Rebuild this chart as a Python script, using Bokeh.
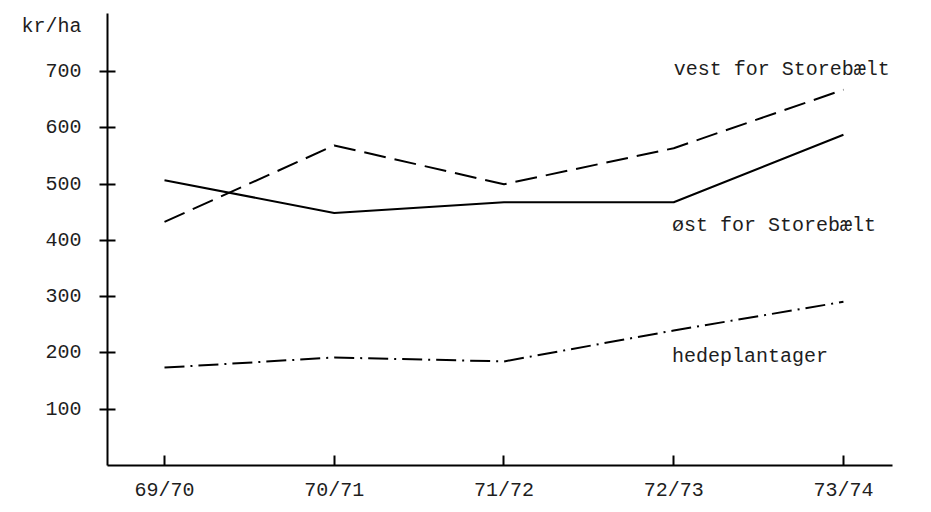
from bokeh.plotting import figure
from bokeh.models import Range1d, FixedTicker, Label
from bokeh.embed import file_html
from bokeh.resources import INLINE

# ---- data ----
seasons = ["69/70", "70/71", "71/72", "72/73", "73/74"]
vest = [433, 569, 500, 564, 668]      # vest for Storebælt
oest = [507, 449, 468, 468, 588]      # øst for Storebælt
hede = [174, 192, 185, 240, 291]      # hedeplantager
y_ticks = [100, 200, 300, 400, 500, 600, 700]
unit_label = "kr/ha"
unit_pos = 780

FONT = "Liberation Mono"
FS = "20px"
TXT = "#1e1e1e"

xs = list(range(len(seasons)))

p = figure(width=923, height=504, output_backend="svg", toolbar_location=None,
           x_range=Range1d(-0.3358, 4.289), y_range=Range1d(0, 803.5),
           min_border_left=107, min_border_right=31, min_border_top=13, min_border_bottom=37)
p.outline_line_color = None
p.xgrid.visible = False
p.ygrid.visible = False
p.background_fill_color = "white"
p.border_fill_color = "white"

p.line(xs, vest, line_color="black", line_width=2, line_dash="22 9")
p.line(xs, oest, line_color="black", line_width=2)
p.line(xs, hede, line_color="black", line_width=2, line_dash="20 6 2 6")

# x axis
xa = p.xaxis[0]
xa.ticker = FixedTicker(ticks=xs)
xa.major_label_overrides = {i: s for i, s in enumerate(seasons)}
xa.major_tick_in = 10
xa.major_tick_out = 0
xa.minor_tick_line_color = None
xa.axis_line_width = 2
xa.major_tick_line_width = 2
xa.axis_line_color = "black"
xa.major_tick_line_color = "black"
xa.major_label_text_font = FONT
xa.major_label_text_font_size = FS
xa.major_label_text_color = TXT
xa.major_label_standoff = 13

# y axis: the value ticks are drawn as minor ticks; the extra major tick only
# carries the unit label
ya = p.yaxis[0]
ya.ticker = FixedTicker(ticks=y_ticks + [unit_pos], minor_ticks=y_ticks)
ya.major_label_overrides = {unit_pos: unit_label}
ya.major_tick_in = 8
ya.major_tick_out = 8
ya.major_tick_line_color = None
ya.minor_tick_in = 8
ya.minor_tick_out = 8
ya.minor_tick_line_width = 2
ya.minor_tick_line_color = "black"
ya.axis_line_width = 2
ya.axis_line_color = "black"
ya.major_label_text_font = FONT
ya.major_label_text_font_size = FS
ya.major_label_text_color = TXT
ya.major_label_standoff = 18

def lab(x, y, t):
    p.add_layout(Label(x=x, y=y, text=t, text_font=FONT, text_font_size=FS,
                       text_color=TXT, text_align="left", text_baseline="middle"))

lab(3.0, 704, "vest for Storebælt")
lab(2.99, 426, "øst for Storebælt")
lab(2.99, 193, "hedeplantager")

open("out.html", "w").write(file_html(p, INLINE))
